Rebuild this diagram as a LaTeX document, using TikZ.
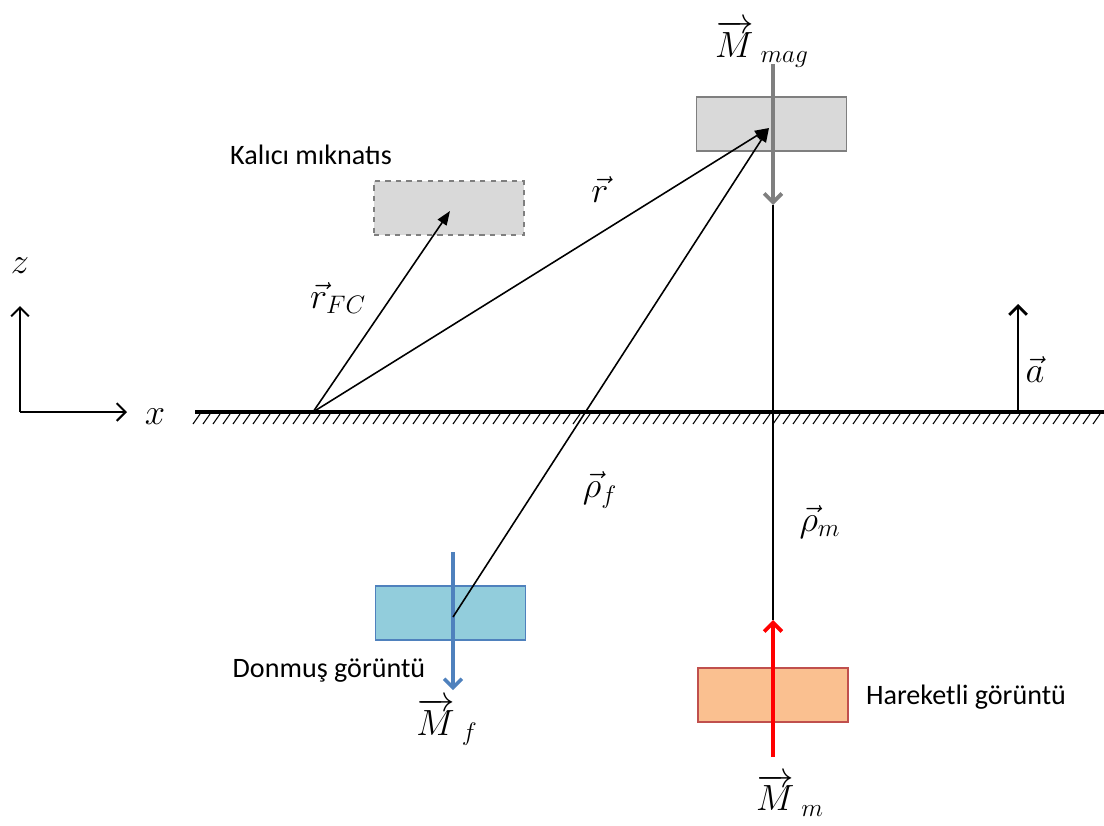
\documentclass[tikz,border=0pt]{standalone}
\usepackage{fontspec}
\setsansfont{Carlito}
\usetikzlibrary{arrows.meta}

\definecolor{magfill}{HTML}{D9D9D9}
\definecolor{magline}{HTML}{7F7F7F}
\definecolor{frzfill}{HTML}{92CDDC}
\definecolor{frzline}{HTML}{4F81BD}
\definecolor{movfill}{HTML}{FAC090}
\definecolor{movline}{HTML}{C0504D}

\begin{document}
\begin{tikzpicture}[
    x=0.02cm, y=-0.02cm,
    magnet/.style={draw, rectangle, minimum width=3cm, minimum height=1.08cm, inner sep=0pt, line width=0.8pt},
    vec/.style={-{Triangle[length=8pt, width=6pt]}, line width=0.9pt},
    openarrow/.style={-{Straight Barb[length=5pt, width=10pt]}, line width=1.6pt},
    txt/.style={font=\sffamily\fontsize{16}{19}\selectfont},
    sym/.style={font=\fontsize{22}{26}\selectfont, inner sep=0pt}
]
\useasboundingbox (0,0) rectangle (1104,825);

% Ground with hatching
\draw[line width=1.8pt] (195,412) -- (1104,412);
\foreach \hx in {200,210,...,1100}
    \draw[line width=0.6pt] (\hx,414) -- ++(-7,10);

% Axes
\coordinate (ax) at (20,412);
\coordinate (axz) at (20,306);
\coordinate (axx) at (127,412);
\draw[openarrow, line width=1.2pt] (ax) -- (axz);
\draw[openarrow, line width=1.2pt] (ax) -- (axx);
\node[sym] (zlbl) at (20,266) {$z$};
\node[sym] (xlbl) at (155,417) {$x$};

% Magnets
\node[magnet, fill=magfill, draw=magline, dashed] (perm) at (449,208) {};
\node[txt] (permlbl) at (311,155) {Kalıcı mıknatıs};
\node[magnet, fill=magfill, draw=magline] (mag) at (771.5,124) {};
\node[magnet, fill=frzfill, draw=frzline] (frz) at (450.5,613) {};
\node[txt] (frzlbl) at (329,671) {Donmuş görüntü};
\node[magnet, fill=movfill, draw=movline] (mov) at (773,695) {};
\node[txt] (movlbl) at (966,697) {Hareketli görüntü};

% Key points
\coordinate (O) at (313,412);
\coordinate (P) at (769,128);
\coordinate (Pf) at (453,617);
\coordinate (Pm) at (773,620);
\coordinate (magtop) at (773,64);
\coordinate (magbot) at (773,205);
\coordinate (fc) at (450,211);

% Moment arrows
\draw[line width=0.9pt] (magbot) -- (Pm);
\draw[openarrow, draw=magline, line width=2.2pt] (magtop) -- (magbot);
\coordinate (ftop) at (453,552);
\coordinate (fbot) at (453,690);
\draw[openarrow, frzline, line width=2pt] (ftop) -- (fbot);
\coordinate (mbot) at (773,757);
\draw[openarrow, red, line width=2.2pt] (mbot) -- (Pm);

% Position vectors
\draw[vec] (O) -- (fc);
\draw[vec] (O) -- (P);
\draw[vec] (Pf) -- (P);

% Acceleration
\coordinate (abot) at (1018,412);
\coordinate (atop) at (1018,304);
\draw[openarrow] (abot) -- (atop);

% Labels
\node[sym] (Mmag) at (762,44) {$\overrightarrow{M}_{\;mag}$};
\node[sym] (Mf) at (447,722) {$\overrightarrow{M}_{\;f}$};
\node[sym] (Mm) at (790,795) {$\overrightarrow{M}_{\;m}$};
\node[sym] (rlbl) at (600,190) {$\vec{r}$};
\node[sym] (rfclbl) at (338,298) {$\vec{r}_{FC}$};
\node[sym] (rhof) at (600,490) {$\vec{\rho}_f$};
\node[sym] (rhom) at (820,522) {$\vec{\rho}_m$};
\node[sym] (albl) at (1035,370) {$\vec{a}$};

\end{tikzpicture}
\end{document}
